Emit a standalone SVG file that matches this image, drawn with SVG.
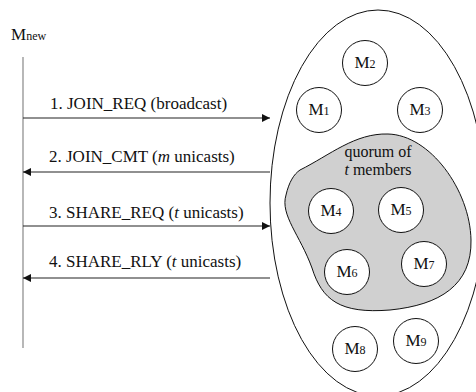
<svg xmlns="http://www.w3.org/2000/svg" width="476" height="392" viewBox="0 0 476 392">
<style>
text{font-family:"Liberation Serif","Times New Roman",serif;fill:#111}
.lbl{font-size:17px}
.big{font-size:17px}
.sm{font-size:12px}
.node circle{fill:#fff;stroke:#111;stroke-width:1}
.msg{stroke:#222;stroke-width:1.2;fill:none}
</style>
<defs>
<marker id="ah" viewBox="0 0 10 10" refX="10" refY="5" markerWidth="8" markerHeight="8" markerUnits="userSpaceOnUse" orient="auto">
<path d="M0,0 L10,5 L0,10 Z" fill="#111"/>
</marker>
</defs>
<rect width="476" height="392" fill="#fff"/>
<g id="mnew">
<text x="11" y="40"><tspan class="big">M</tspan><tspan class="sm">new</tspan></text>
<line x1="23" y1="57" x2="23" y2="348" stroke="#888" stroke-width="1.2"/>
</g>
<g id="group">
<ellipse cx="378" cy="203" rx="108" ry="193" fill="none" stroke="#111" stroke-width="1"/>
</g>
<g id="quorum">
<path d="M300,170 C330,155 355,133 388,134 C430,135 470,190 471,240 C472,285 440,305 390,310 C340,314 322,300 312,268 C300,235 280,215 286,195 C289,182 294,174 300,170 Z" fill="#d0d0d0" stroke="#111" stroke-width="1"/>
<text x="378" y="157" text-anchor="middle" class="lbl" style="font-size:16px">quorum of</text>
<text x="378" y="175" text-anchor="middle" class="lbl" style="font-size:16px"><tspan font-style="italic">t</tspan> members</text>
</g>
<g id="m1" class="node"><circle cx="319" cy="110" r="22.5"/><text x="319" y="115" text-anchor="middle"><tspan class="big">M</tspan><tspan class="sm">1</tspan></text></g>
<g id="m2" class="node"><circle cx="365" cy="63" r="22.5"/><text x="365" y="68" text-anchor="middle"><tspan class="big">M</tspan><tspan class="sm">2</tspan></text></g>
<g id="m3" class="node"><circle cx="420" cy="110" r="22.5"/><text x="420" y="115" text-anchor="middle"><tspan class="big">M</tspan><tspan class="sm">3</tspan></text></g>
<g id="m4" class="node"><circle cx="331" cy="211" r="22.5"/><text x="331" y="216" text-anchor="middle"><tspan class="big">M</tspan><tspan class="sm">4</tspan></text></g>
<g id="m5" class="node"><circle cx="401" cy="210" r="22.5"/><text x="401" y="215" text-anchor="middle"><tspan class="big">M</tspan><tspan class="sm">5</tspan></text></g>
<g id="m6" class="node"><circle cx="347" cy="272" r="22.5"/><text x="347" y="277" text-anchor="middle"><tspan class="big">M</tspan><tspan class="sm">6</tspan></text></g>
<g id="m7" class="node"><circle cx="424" cy="264" r="22.5"/><text x="424" y="269" text-anchor="middle"><tspan class="big">M</tspan><tspan class="sm">7</tspan></text></g>
<g id="m8" class="node"><circle cx="355" cy="349" r="22.5"/><text x="355" y="354" text-anchor="middle"><tspan class="big">M</tspan><tspan class="sm">8</tspan></text></g>
<g id="m9" class="node"><circle cx="416" cy="341" r="22.5"/><text x="416" y="346" text-anchor="middle"><tspan class="big">M</tspan><tspan class="sm">9</tspan></text></g>
<g id="connectors">
<line class="msg" x1="23" y1="118" x2="270" y2="118" marker-end="url(#ah)"/>
<line class="msg" x1="270" y1="172" x2="23" y2="172" marker-end="url(#ah)"/>
<line class="msg" x1="23" y1="226" x2="270" y2="226" marker-end="url(#ah)"/>
<line class="msg" x1="270" y1="278" x2="23" y2="278" marker-end="url(#ah)"/>
<text class="lbl" x="50" y="109">1. JOIN_REQ (broadcast)</text>
<text class="lbl" x="49" y="162">2. JOIN_CMT (<tspan font-style="italic">m</tspan> unicasts)</text>
<text class="lbl" x="49" y="218">3. SHARE_REQ (<tspan font-style="italic">t</tspan> unicasts)</text>
<text class="lbl" x="49" y="267">4. SHARE_RLY (<tspan font-style="italic">t</tspan> unicasts)</text>
</g>
</svg>
